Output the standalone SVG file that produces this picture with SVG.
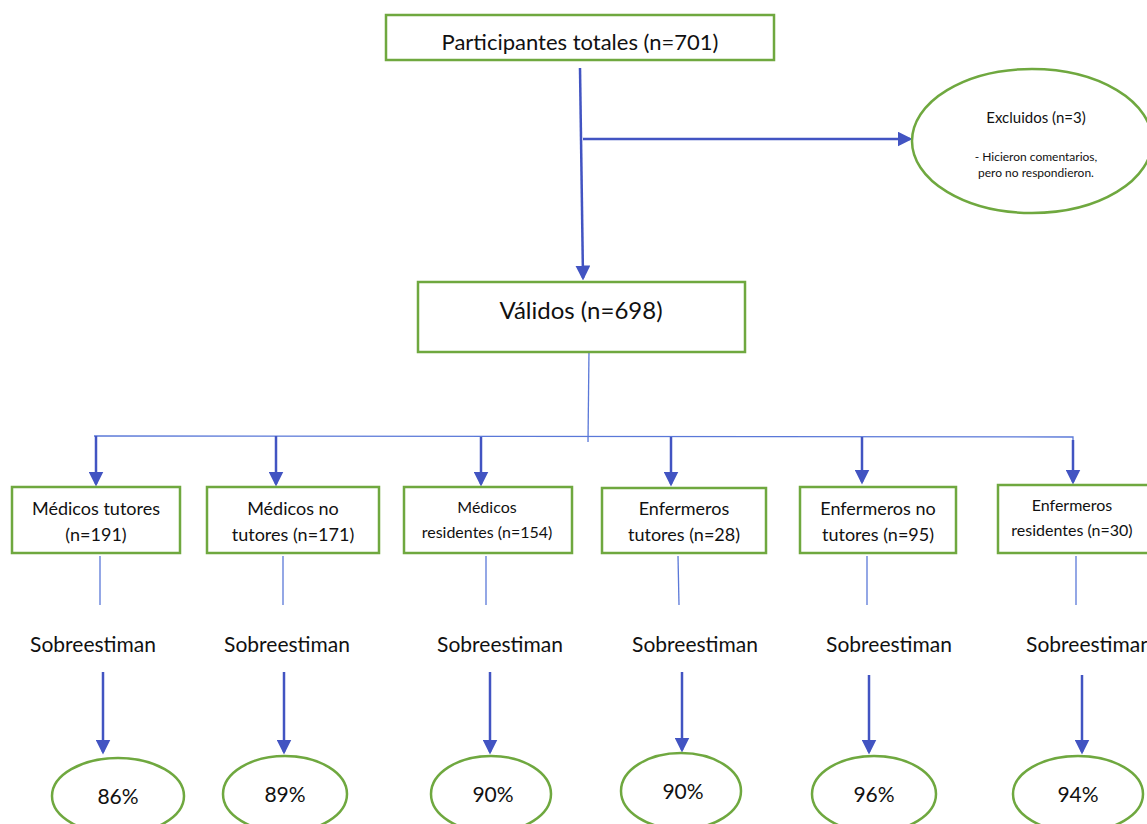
<svg xmlns="http://www.w3.org/2000/svg" width="1147" height="824" viewBox="0 0 1147 824">
<style>
.box{fill:#fff;stroke:#6fa83f;stroke-width:2.5}
.oval{fill:#fff;stroke:#6fa83f;stroke-width:2.5}
.t{font-family:Lato,"Open Sans",sans-serif;fill:#111;text-anchor:middle}
.arr{stroke:#4254c2;stroke-width:2.5;fill:none;marker-end:url(#ah)}
.thin{stroke:#5a78d8;stroke-width:1.3;fill:none}
</style>
<defs>
<marker id="ah" markerWidth="6" markerHeight="6" refX="5" refY="3" orient="auto" markerUnits="strokeWidth">
<path d="M0,0 L6,3 L0,6 Z" fill="#4254c2"/>
</marker>
</defs>
<rect width="1147" height="824" fill="#fff"/>
<g id="connectors">
<line class="arr" x1="580" y1="68" x2="583" y2="278"/>
<line class="arr" x1="583" y1="139" x2="910" y2="139"/>
<line class="thin" x1="589" y1="350" x2="588" y2="442"/>
<polyline class="thin" points="94,436 1073,437 1073,442"/>
<line class="arr" x1="96" y1="436" x2="96" y2="484"/>
<line class="arr" x1="276" y1="436" x2="276" y2="484"/>
<line class="arr" x1="481" y1="437" x2="481" y2="484"/>
<line class="arr" x1="671" y1="437" x2="671" y2="484"/>
<line class="arr" x1="862" y1="437" x2="862" y2="482"/>
<line class="arr" x1="1073" y1="440" x2="1073" y2="482"/>
<line class="thin" x1="100" y1="556" x2="100" y2="605"/>
<line class="thin" x1="283" y1="556" x2="283" y2="605"/>
<line class="thin" x1="486" y1="556" x2="486" y2="605"/>
<line class="thin" x1="678" y1="556" x2="679" y2="605"/>
<line class="thin" x1="867" y1="556" x2="867" y2="605"/>
<line class="thin" x1="1076" y1="556" x2="1076" y2="605"/>
<line class="arr" x1="103" y1="672" x2="103" y2="752"/>
<line class="arr" x1="284" y1="672" x2="284" y2="752"/>
<line class="arr" x1="490" y1="672" x2="490" y2="752"/>
<line class="arr" x1="682" y1="672" x2="682" y2="750"/>
<line class="arr" x1="869" y1="675" x2="869" y2="752"/>
<line class="arr" x1="1082" y1="675" x2="1082" y2="752"/>
</g>
<g id="n-total">
<rect class="box" x="386" y="15" width="388" height="45"/>
<text class="t" x="580" y="50" font-size="22">Participantes totales (n=701)</text>
</g>
<g id="n-excluidos">
<ellipse class="oval" cx="1032" cy="141" rx="120" ry="72"/>
<text class="t" x="1036" y="123" font-size="15">Excluidos (n=3)</text>
<text class="t" x="1036" y="161" font-size="12">- Hicieron comentarios,</text>
<text class="t" x="1036" y="177" font-size="12">pero no respondieron.</text>
</g>
<g id="n-validos">
<rect class="box" x="418" y="282" width="327" height="70"/>
<text class="t" x="581" y="319" font-size="24">Válidos (n=698)</text>
</g>
<g id="n-mt">
<rect class="box" x="12" y="487" width="168" height="66"/>
<text class="t" x="96" y="515" font-size="18">Médicos tutores</text>
<text class="t" x="96" y="541" font-size="18">(n=191)</text>
</g>
<g id="n-mnt">
<rect class="box" x="207" y="487" width="172" height="66"/>
<text class="t" x="293" y="515" font-size="18">Médicos no</text>
<text class="t" x="293" y="541" font-size="18">tutores (n=171)</text>
</g>
<g id="n-mr">
<rect class="box" x="404" y="487" width="168" height="66"/>
<text class="t" x="487" y="513" font-size="16">Médicos</text>
<text class="t" x="487" y="538" font-size="16">residentes (n=154)</text>
</g>
<g id="n-et">
<rect class="box" x="602" y="488" width="164" height="65"/>
<text class="t" x="684" y="515" font-size="18">Enfermeros</text>
<text class="t" x="684" y="541" font-size="18">tutores (n=28)</text>
</g>
<g id="n-ent">
<rect class="box" x="800" y="487" width="156" height="66"/>
<text class="t" x="878" y="515" font-size="18">Enfermeros no</text>
<text class="t" x="878" y="541" font-size="18">tutores (n=95)</text>
</g>
<g id="n-er">
<rect class="box" x="998" y="485" width="152" height="68"/>
<text class="t" x="1072" y="511" font-size="16">Enfermeros</text>
<text class="t" x="1072" y="536" font-size="16">residentes (n=30)</text>
</g>
<g id="labels">
<text class="t" x="93" y="652" font-size="21">Sobreestiman</text>
<text class="t" x="287" y="652" font-size="21">Sobreestiman</text>
<text class="t" x="500" y="652" font-size="21">Sobreestiman</text>
<text class="t" x="695" y="652" font-size="21">Sobreestiman</text>
<text class="t" x="889" y="652" font-size="21">Sobreestiman</text>
<text class="t" x="1089" y="652" font-size="21">Sobreestiman</text>
</g>
<g id="p1"><ellipse class="oval" cx="118" cy="796" rx="66" ry="38"/><text class="t" x="118" y="804" font-size="21">86%</text></g>
<g id="p2"><ellipse class="oval" cx="285" cy="794" rx="62" ry="38"/><text class="t" x="285" y="802" font-size="21">89%</text></g>
<g id="p3"><ellipse class="oval" cx="491" cy="794" rx="60" ry="38"/><text class="t" x="493" y="802" font-size="21">90%</text></g>
<g id="p4"><ellipse class="oval" cx="681" cy="791" rx="60" ry="38"/><text class="t" x="683" y="799" font-size="21">90%</text></g>
<g id="p5"><ellipse class="oval" cx="874" cy="794" rx="62" ry="38"/><text class="t" x="874" y="802" font-size="21">96%</text></g>
<g id="p6"><ellipse class="oval" cx="1078" cy="794" rx="65" ry="38"/><text class="t" x="1078" y="802" font-size="21">94%</text></g>
</svg>
